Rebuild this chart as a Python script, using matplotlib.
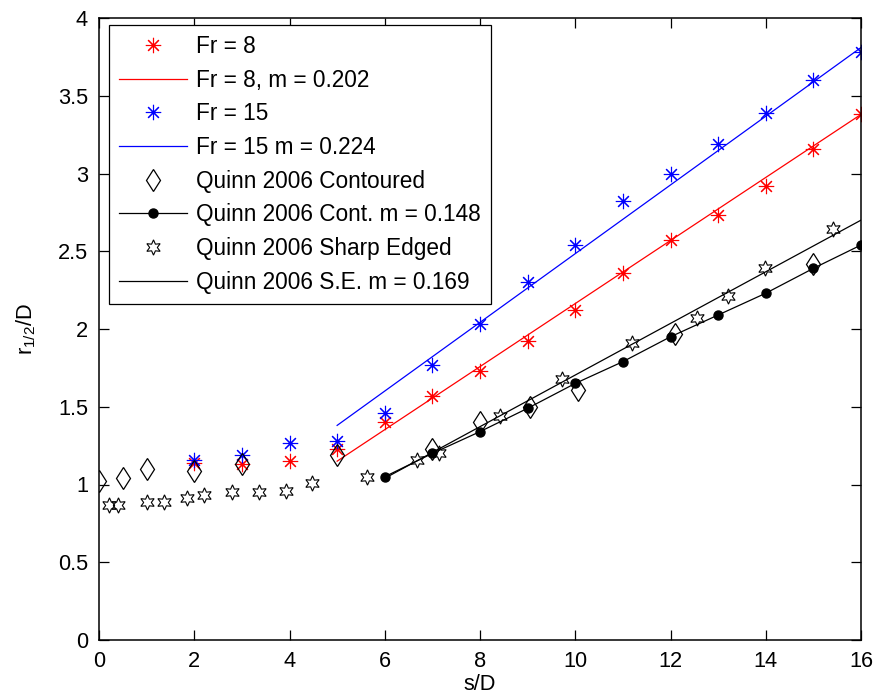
import matplotlib
matplotlib.use("Agg")
import matplotlib.pyplot as plt

plt.rcParams["font.family"] = ["Liberation Sans", "DejaVu Sans"]
plt.rcParams["mathtext.default"] = "regular"

# Fr = 8 and Fr = 15 measurements
s_fr = [2, 3, 4, 5, 6, 7, 8, 9, 10, 11, 12, 13, 14, 15, 16]
fr8 = [1.14, 1.13, 1.15, 1.23, 1.40, 1.57, 1.73, 1.92, 2.12, 2.36, 2.57, 2.73, 2.92, 3.16, 3.38]
fr15 = [1.16, 1.19, 1.27, 1.28, 1.46, 1.77, 2.03, 2.30, 2.54, 2.82, 3.00, 3.19, 3.39, 3.60, 3.78]

# linear fits (end points)
fit_s = [5, 16]
fr8_fit = [1.15, 3.38]
fr15_fit = [1.38, 3.81]

# Quinn 2006 contoured
s_cont = [0, 0.5, 1.0, 2.0, 3.0, 5.0, 7.0, 8.0, 9.05, 10.05, 12.1, 15.0]
cont = [1.02, 1.04, 1.10, 1.09, 1.13, 1.19, 1.23, 1.40, 1.50, 1.61, 1.97, 2.42]
s_cont_fit = [6, 7, 8, 9, 10, 11, 12, 13, 14, 15, 16]
cont_fit = [1.05, 1.20, 1.34, 1.49, 1.65, 1.79, 1.95, 2.09, 2.23, 2.39, 2.54]

# Quinn 2006 sharp edged
s_se = [0.21, 0.40, 1.0, 1.36, 1.84, 2.21, 2.8, 3.35, 3.93, 4.48, 5.62,
        6.68, 7.14, 8.41, 9.73, 11.19, 12.55, 13.2, 13.99, 15.41]
se = [0.87, 0.87, 0.89, 0.89, 0.91, 0.93, 0.95, 0.95, 0.96, 1.01, 1.05,
      1.16, 1.20, 1.44, 1.68, 1.91, 2.07, 2.21, 2.39, 2.64]
se_fit_s = [6, 16]
se_fit = [1.04, 2.70]

fig = plt.figure(figsize=(8.75, 6.99), dpi=100)
ax = fig.add_axes([99 / 875, 1 - 640 / 699, (861 - 99) / 875, (640 - 18) / 699])

asterisk = (8, 2, 0)
hexagram = (6, 1, 0)
fs = 15.7

ax.plot(s_fr, fr8, linestyle="none", marker=asterisk, color="red",
        markersize=11, markeredgewidth=0.8, label="Fr = 8")
ax.plot(fit_s, fr8_fit, color="red", linewidth=0.9, label="Fr = 8, m = 0.202")
ax.plot(s_fr, fr15, linestyle="none", marker=asterisk, color="blue",
        markersize=11, markeredgewidth=0.8, label="Fr = 15")
ax.plot(fit_s, fr15_fit, color="blue", linewidth=0.9, label="Fr = 15 m = 0.224")
ax.plot(s_cont, cont, linestyle="none", marker="d", markersize=11.5,
        markerfacecolor="none", markeredgecolor="black", markeredgewidth=0.9,
        label="Quinn 2006 Contoured")
ax.plot(s_cont_fit, cont_fit, color="black", linewidth=0.9, marker="o",
        markersize=6.5, label="Quinn 2006 Cont. m = 0.148")
ax.plot(s_se, se, linestyle="none", marker=hexagram, markersize=11,
        markerfacecolor="none", markeredgecolor="black", markeredgewidth=0.8,
        label="Quinn 2006 Sharp Edged")
ax.plot(se_fit_s, se_fit, color="black", linewidth=0.9, label="Quinn 2006 S.E. m = 0.169")

ax.set_xlim(0, 16)
ax.set_ylim(0, 4)
ax.set_xticks([0, 2, 4, 6, 8, 10, 12, 14, 16])
ax.set_yticks([0, 0.5, 1, 1.5, 2, 2.5, 3, 3.5, 4])
ax.set_yticklabels(["0", "0.5", "1", "1.5", "2", "2.5", "3", "3.5", "4"])
ax.tick_params(direction="in", top=True, right=True, length=7, width=0.9,
               labelsize=fs, pad=8)
for sp in ax.spines.values():
    sp.set_linewidth(1.1)

ax.set_xlabel("s/D", fontsize=fs, labelpad=1)
ax.set_ylabel("r$_{1/2}$/D", fontsize=fs, labelpad=14)

leg = ax.legend(loc="upper left", bbox_to_anchor=(0.013, 0.989), fontsize=16.3,
                numpoints=1, handlelength=3.0, handletextpad=0.4,
                labelspacing=0.47, borderpad=0.45, borderaxespad=0,
                fancybox=False, edgecolor="black", framealpha=1)
leg.get_frame().set_linewidth(0.9)

fig.savefig("out.png", dpi=100)
